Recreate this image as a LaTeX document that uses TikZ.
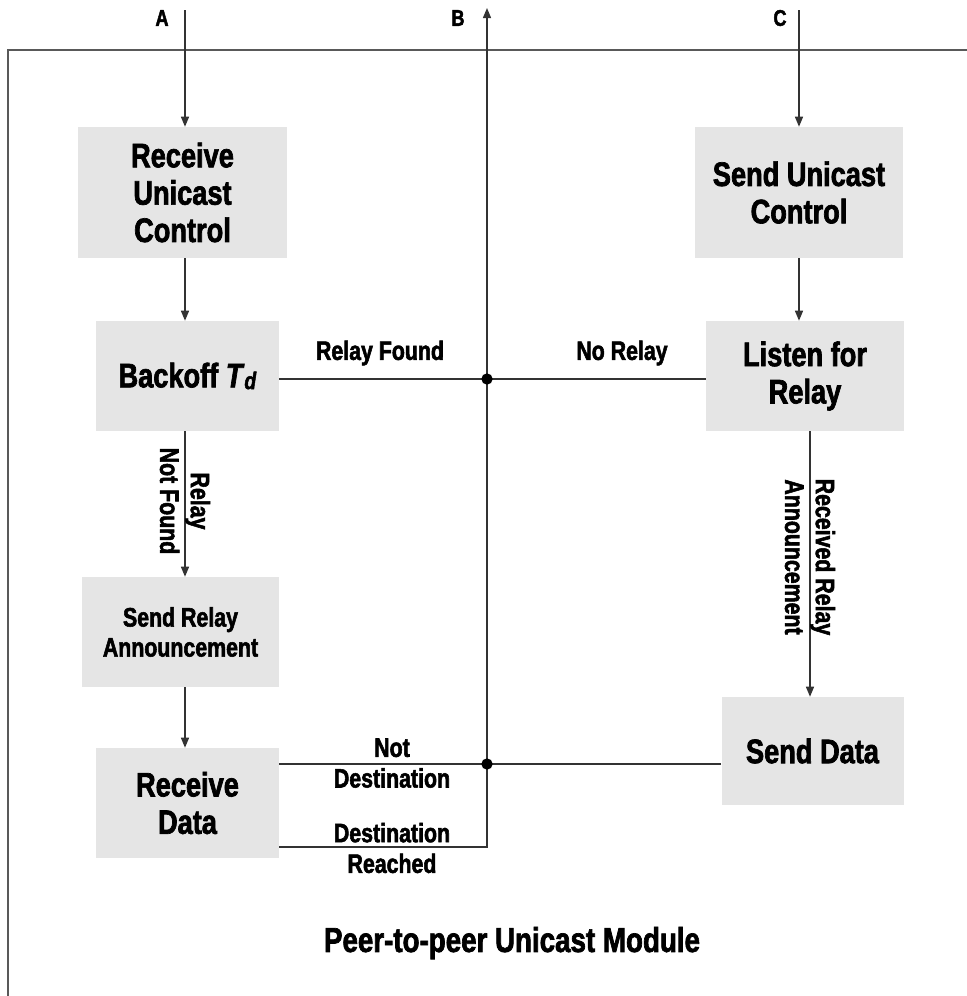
\documentclass[tikz,border=0pt]{standalone}
\usepackage{fontspec}
\setmainfont{Liberation Sans}[FakeStretch=0.8,
  BoldFeatures={FakeBold=2}, BoldItalicFeatures={FakeBold=2}]
\usetikzlibrary{arrows.meta}

\begin{document}
\begin{tikzpicture}[x=0.75pt,y=-0.75pt,
  stepbox/.style={fill=black!10, inner sep=0pt, align=center,
    font=\bfseries\fontsize{25.5}{28}\selectfont},
  smallbox/.style={stepbox, font=\bfseries\fontsize{20}{22.5}\selectfont},
  size/.style 2 args={minimum width=#1*0.75pt, minimum height=#2*0.75pt},
  lbl/.style={align=center, inner sep=0pt, font=\bfseries\fontsize{20}{23}\selectfont},
  port/.style={inner sep=0pt, font=\bfseries\fontsize{17}{18}\selectfont},
  link/.style={draw=black!80, line width=1pt},
  arr/.style={link, -{Triangle[length=7.5pt,width=6pt]}},
  dot/.style={circle, fill=black, inner sep=0pt, minimum size=8.5pt},
  frame/.style={draw=black!65, line width=1.5pt}]

\useasboundingbox (0,0) rectangle (967,996);

% module frame (top and left edges)
\draw[frame] (967,50) -- (8,50) -- (8,996);

% external ports
\node[port] (pa) at (162,18) {A};
\node[port] (pb) at (458,18) {B};
\node[port] (pc) at (780,18) {C};
\coordinate (inA) at (185,10);
\coordinate (outB) at (487,8);
\coordinate (inC) at (799,10);
\coordinate (colA) at (185,0);
\coordinate (colC) at (810,0);

% process boxes
\node[stepbox, size={209}{131}] (rxctl) at (182.5,192.5) {Receive\\Unicast\\Control};
\node[stepbox, size={208}{131}] (txctl) at (799,192.5) {Send Unicast\\Control};
\node[stepbox, size={183}{110}] (backoff) at (187.5,376)
  {Backoff\ \textit{T}\raisebox{-0.05em}{\textit{\fontsize{18}{18}\selectfont d}}};
\node[stepbox, size={198}{110}] (listen) at (805,376) {Listen for\\Relay};
\node[smallbox, size={197}{110}] (sra) at (180.5,632) {Send Relay\\Announcement};
\node[stepbox, size={183}{110}] (rxdata) at (187.5,803) {Receive\\Data};
\node[stepbox, size={182}{108}] (txdata) at (812.5,751) {Send Data};

% junction points on the shared bus
\coordinate (j1) at (487,379);
\coordinate (j2) at (487,764);
\coordinate (dr) at (487,847);

% receiver side flow
\draw[arr] (inA) -- (rxctl.north -| inA);
\draw[arr] (rxctl.south -| colA) -- (backoff.north -| colA);
\draw[arr] (backoff.south -| colA) -- (sra.north -| colA);
\node[lbl, rotate=-90] (lnf) at (185,501) {Relay\\Not Found};
\draw[arr] (sra.south -| colA) -- (rxdata.north -| colA);

% sender side flow
\draw[arr] (inC) -- (txctl.north -| inC);
\draw[arr] (txctl.south -| inC) -- (listen.north -| inC);
\draw[arr] (listen.south -| colC) -- (txdata.north -| colC);
\node[lbl, rotate=-90] (lra) at (810,557) {Received Relay\\Announcement};

% bus connections
\draw[link] (backoff.east |- j1) -- (j1);
\draw[link] (listen.west |- j1) -- (j1);
\draw[link] (rxdata.east |- j2) -- (j2);
\draw[link] (txdata.west |- j2) -- (j2);
\draw[arr] (rxdata.east |- dr) -- (dr) -- (outB);

\node[lbl] (lrf) at (380,353) {Relay Found};
\node[lbl] (lnr) at (622,353) {No Relay};
\node[lbl, text depth=0pt] (lnd) at (392,763) {Not\\Destination};
\node[lbl] (ldr) at (392,848) {Destination\\Reached};

\node[dot] (d1) at (j1) {};
\node[dot] (d2) at (j2) {};

% module title
\node[font=\bfseries\fontsize{26}{28}\selectfont] (title) at (512,943) {Peer-to-peer Unicast Module};
\end{tikzpicture}
\end{document}
